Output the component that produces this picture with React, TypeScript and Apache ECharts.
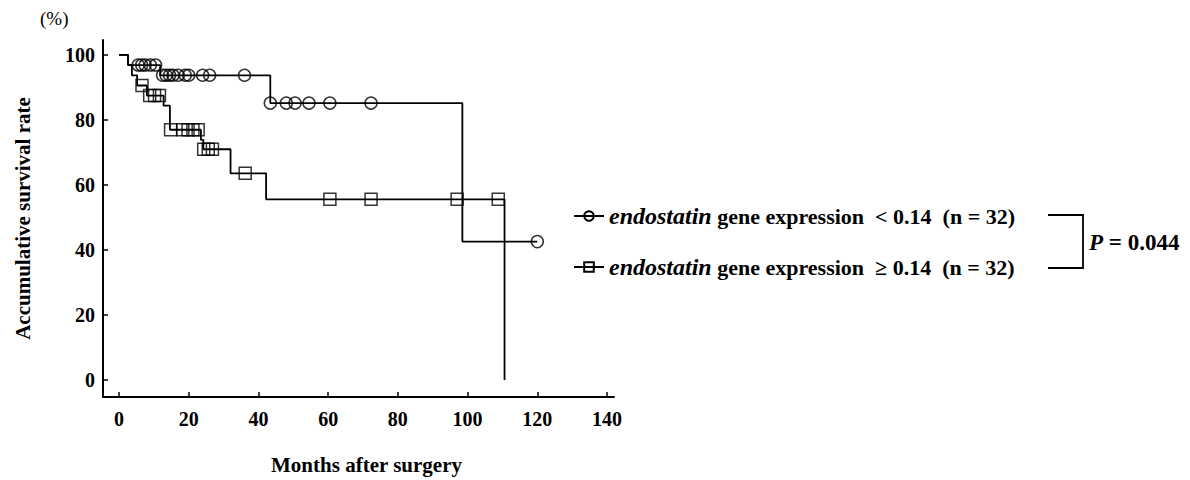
import React, { useEffect, useRef } from "react";
import * as echarts from "echarts";

// ---- data ----
const xTicks = [0, 20, 40, 60, 80, 100, 120, 140];
const yTicks = [0, 20, 40, 60, 80, 100];

const lowName = "endostatin < 0.14";
const highName = "endostatin >= 0.14";

// Kaplan-Meier steps: [month, survival %] (value after the event)
const lowSteps: [number, number][] = [
  [0, 100], [2.6, 96.9], [11.8, 93.75], [43.4, 85.2], [98.5, 42.6], [120, 42.6],
];
const lowCensored: [number, number][] = [
  [5.5, 96.9], [6.5, 96.9], [7.5, 96.9], [9, 96.9], [10.5, 96.9],
  [12.5, 93.75], [13.5, 93.75], [14.5, 93.75], [15.5, 93.75], [17, 93.75],
  [19, 93.75], [20, 93.75], [24, 93.75], [26, 93.75], [36, 93.75],
  [43.4, 85.2], [48, 85.2], [50.5, 85.2], [54.5, 85.2], [60.5, 85.2], [72.3, 85.2],
  [120, 42.6],
];

const highSteps: [number, number][] = [
  [0, 100], [2.6, 96.9], [3.7, 93.75], [5.2, 90.6], [8, 87.5], [12.8, 84.4],
  [14.6, 77.0], [23.5, 73.9], [24.2, 71.0], [32, 63.6], [42.2, 55.6],
  [110.6, 0],
];
const highCensored: [number, number][] = [
  [6.6, 90.6], [8.8, 87.5], [10.2, 87.5], [11.6, 87.5],
  [14.8, 77.0], [18.3, 77.0], [19.8, 77.0], [21.2, 77.0], [22.7, 77.0],
  [24.3, 71.0], [25.6, 71.0], [26.8, 71.0],
  [36.2, 63.6],
  [60.5, 55.6], [72.3, 55.6], [97, 55.6], [108.8, 55.6],
];

const FONT = "'Liberation Serif', 'DejaVu Serif', serif";

export default function App() {
  const ref = useRef<HTMLDivElement>(null);
  useEffect(() => {
    if (!ref.current) return;
    const chart = echarts.init(ref.current, undefined, { renderer: "svg" });
    const axisLine = { show: true, onZero: false, lineStyle: { color: "#000", width: 2 } };
    const tick = { show: true, inside: true, length: 5, lineStyle: { color: "#000", width: 1.5 } };
    const labelStyle = { color: "#000", fontFamily: FONT, fontWeight: "bold", fontSize: 20 };
    const nameStyle = { color: "#000", fontFamily: FONT, fontWeight: "bold", fontSize: 21 };
    const markStyle = { color: "rgba(255,255,255,0)", borderColor: "#000", borderWidth: 1.5 };
    chart.setOption({
      animation: false,
      backgroundColor: "#fff",
      grid: { left: 103, top: 40, width: 511, height: 360, containLabel: false },
      xAxis: {
        type: "value",
        min: -4.59,
        max: 142,
        axisLine,
        axisTick: { ...tick, customValues: xTicks },
        splitLine: { show: false },
        axisLabel: { ...labelStyle, customValues: xTicks, margin: 12 },
        name: "Months after surgery",
        nameLocation: "middle",
        nameGap: 57,
        nameTextStyle: { ...nameStyle, padding: [0, 0, 0, 16] },
      },
      yAxis: {
        type: "value",
        min: -5.2,
        max: 104.6,
        axisLine,
        axisTick: { ...tick, customValues: yTicks },
        splitLine: { show: false },
        axisLabel: { ...labelStyle, customValues: yTicks, margin: 8 },
        name: "Accumulative survival rate",
        nameLocation: "middle",
        nameRotate: 90,
        nameGap: 70,
        nameTextStyle: nameStyle,
      },
      legend: {
        orient: "vertical",
        left: 568,
        top: 199,
        itemWidth: 30,
        itemHeight: 12,
        itemGap: 27,
        data: [lowName, highName],
        formatter: (name: string) =>
          name === lowName
            ? "{i|endostatin} gene expression  < 0.14  (n = 32)"
            : "{i|endostatin} gene expression  \u2265 0.14  (n = 32)",
        textStyle: {
          color: "#000",
          fontFamily: FONT,
          fontWeight: "bold",
          fontSize: 22,
          rich: {
            i: { fontFamily: FONT, fontStyle: "italic", fontWeight: "bold", fontSize: 24, color: "#000" },
          },
        },
      },
      graphic: [
        {
          type: "text",
          left: 40,
          top: 9,
          style: { text: "(%)", fill: "#000", font: `19px ${FONT}` },
        },
        {
          type: "polyline",
          shape: { points: [[1048, 215], [1083, 215], [1083, 268], [1048, 268]] },
          style: { stroke: "#000", lineWidth: 1.8, fill: "none" },
        },
        {
          type: "text",
          x: 1089,
          y: 242,
          style: {
            text: "{i|P} = 0.044",
            fill: "#000",
            font: `bold 23px ${FONT}`,
            verticalAlign: "middle",
            rich: { i: { fontFamily: FONT, fontStyle: "italic", fontWeight: "bold", fontSize: 23 } },
          },
        },
      ],
      series: [
        {
          name: lowName,
          type: "line",
          step: "end",
          data: lowSteps,
          symbol: "circle",
          symbolSize: 12,
          showSymbol: false,
          lineStyle: { color: "#000", width: 1.8 },
          itemStyle: markStyle,
        },
        {
          name: highName,
          type: "line",
          step: "end",
          data: highSteps,
          symbol: "rect",
          symbolSize: 12,
          showSymbol: false,
          lineStyle: { color: "#000", width: 1.8 },
          itemStyle: markStyle,
        },
        {
          name: "low censored",
          type: "scatter",
          data: lowCensored,
          symbol: "circle",
          symbolSize: 12,
          itemStyle: markStyle,
          z: 3,
        },
        {
          name: "high censored",
          type: "scatter",
          data: highCensored,
          symbol: "rect",
          symbolSize: 12,
          itemStyle: markStyle,
          z: 3,
        },
      ],
    });
    return () => chart.dispose();
  }, []);
  return (
    <div
      ref={ref}
      style={{ position: "absolute", left: 0, top: 0, width: 1190, height: 480, background: "#fff" }}
    />
  );
}
